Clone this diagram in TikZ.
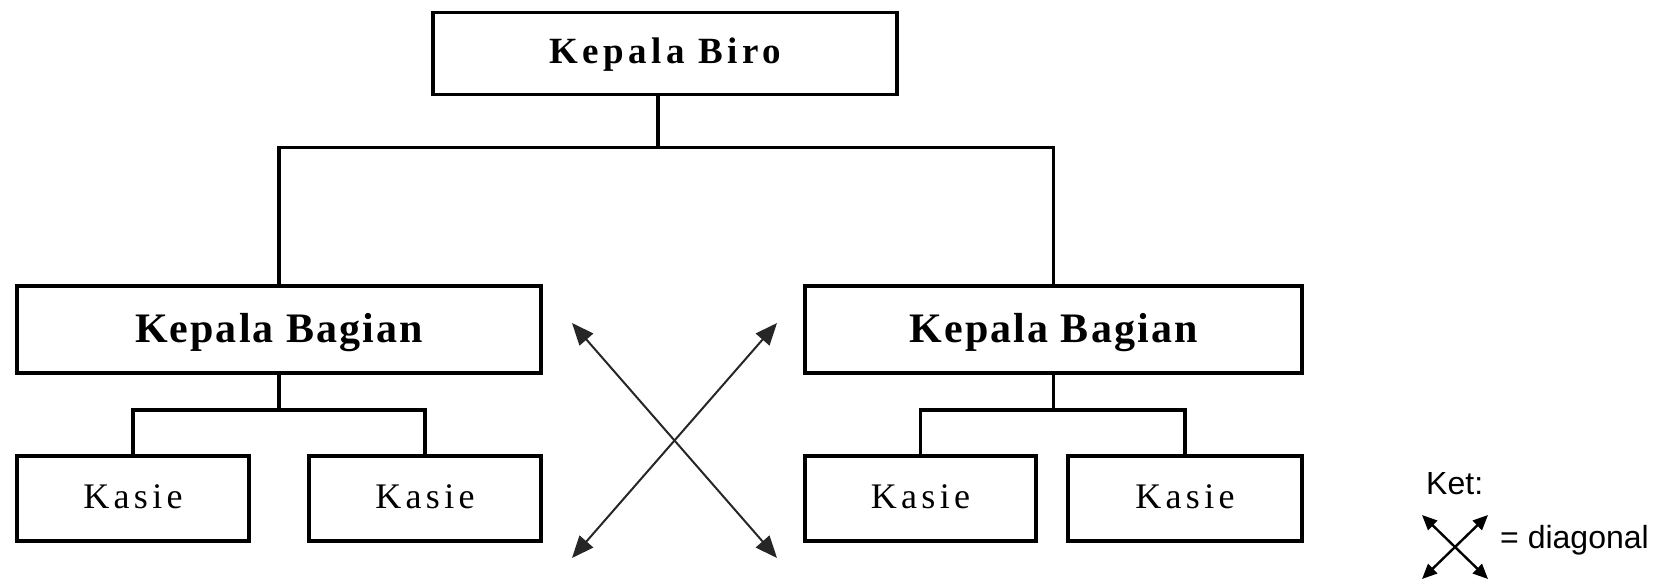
\documentclass[tikz,border=0pt]{standalone}
\usepackage{fontspec}
\setmainfont{Liberation Serif}
\newfontfamily\legendfont{Liberation Sans}
\usetikzlibrary{arrows.meta}
\tikzset{
  box/.style={draw, line width=3.5pt, inner sep=0pt, align=center},
  birotext/.style={font=\fontsize{37}{40}\selectfont\bfseries\addfontfeatures{LetterSpace=12},
    text height=20.5pt, text depth=0pt},
  bagiantext/.style={font=\fontsize{42}{46}\selectfont\bfseries\addfontfeatures{LetterSpace=5},
    text height=26.5pt, text depth=0pt},
  kasietext/.style={font=\fontsize{36}{40}\selectfont\addfontfeatures{LetterSpace=12},
    text height=23.8pt, text depth=3pt},
  link/.style={line width=3.5pt},
  diag/.style={{Triangle[length=22pt,width=18pt]}-{Triangle[length=22pt,width=18pt]}, line width=2pt, draw=black!85},
  smalldiag/.style={{Triangle[length=15pt,width=13pt]}-{Triangle[length=15pt,width=13pt]}, line width=2.4pt},
  legendtext/.style={font=\legendfont\fontsize{32}{36}\selectfont, inner sep=0pt}
}
\begin{document}
\begin{tikzpicture}[x=1pt,y=-1pt]
\useasboundingbox (0,0) rectangle (1653,580);

% boxes
\node[box, birotext, minimum width=464pt, minimum height=82pt] (biro) at (665,53.5) {Kepala Biro};
\node[box, bagiantext, minimum width=524pt, minimum height=87pt] (kbL) at (279,329.5) {Kepala Bagian};
\node[box, bagiantext, minimum width=497pt, minimum height=87pt] (kbR) at (1053.5,329.5) {Kepala Bagian};
\node[box, kasietext, minimum width=232pt, minimum height=85pt] (kL1) at (133,498.5) {Kasie};
\node[box, kasietext, minimum width=232pt, minimum height=85pt] (kL2) at (425,498.5) {Kasie};
\node[box, kasietext, minimum width=231pt, minimum height=85pt] (kR1) at (920.5,498.5) {Kasie};
\node[box, kasietext, minimum width=234pt, minimum height=85pt] (kR2) at (1185,498.5) {Kasie};

% connector levels
\coordinate (bus) at (0,147.5);
\coordinate (subbus) at (0,410);

\draw[link] ([xshift=-7pt]biro.south) -- ([xshift=-7pt]biro.south |- bus);
\draw[link] (kbL.north) -- (kbL.north |- bus) -- (kbR.north |- bus) -- (kbR.north);

\draw[link] (kbL.south) -- (kbL.south |- subbus);
\draw[link] (kL1.north) -- (kL1.north |- subbus) -- (kL2.north |- subbus) -- (kL2.north);
\draw[link] (kbR.south) -- (kbR.south |- subbus);
\draw[link] (kR1.north) -- (kR1.north |- subbus) -- (kR2.north |- subbus) -- (kR2.north);

% diagonal relations
\coordinate (xa1) at (572,323);
\coordinate (xa2) at (777,558);
\coordinate (xb1) at (777,323);
\coordinate (xb2) at (572,558);
\draw[diag] (xa1) -- (xa2);
\draw[diag] (xb1) -- (xb2);

% legend
\node[legendtext, anchor=west] (ket) at (1426,484) {Ket:};
\coordinate (la1) at (1422,515);
\coordinate (la2) at (1488,579);
\coordinate (lb1) at (1488,515);
\coordinate (lb2) at (1422,579);
\draw[smalldiag] (la1) -- (la2);
\draw[smalldiag] (lb1) -- (lb2);
\node[legendtext, anchor=west] (diaglbl) at (1500,540) {= diagonal};
\end{tikzpicture}
\end{document}
